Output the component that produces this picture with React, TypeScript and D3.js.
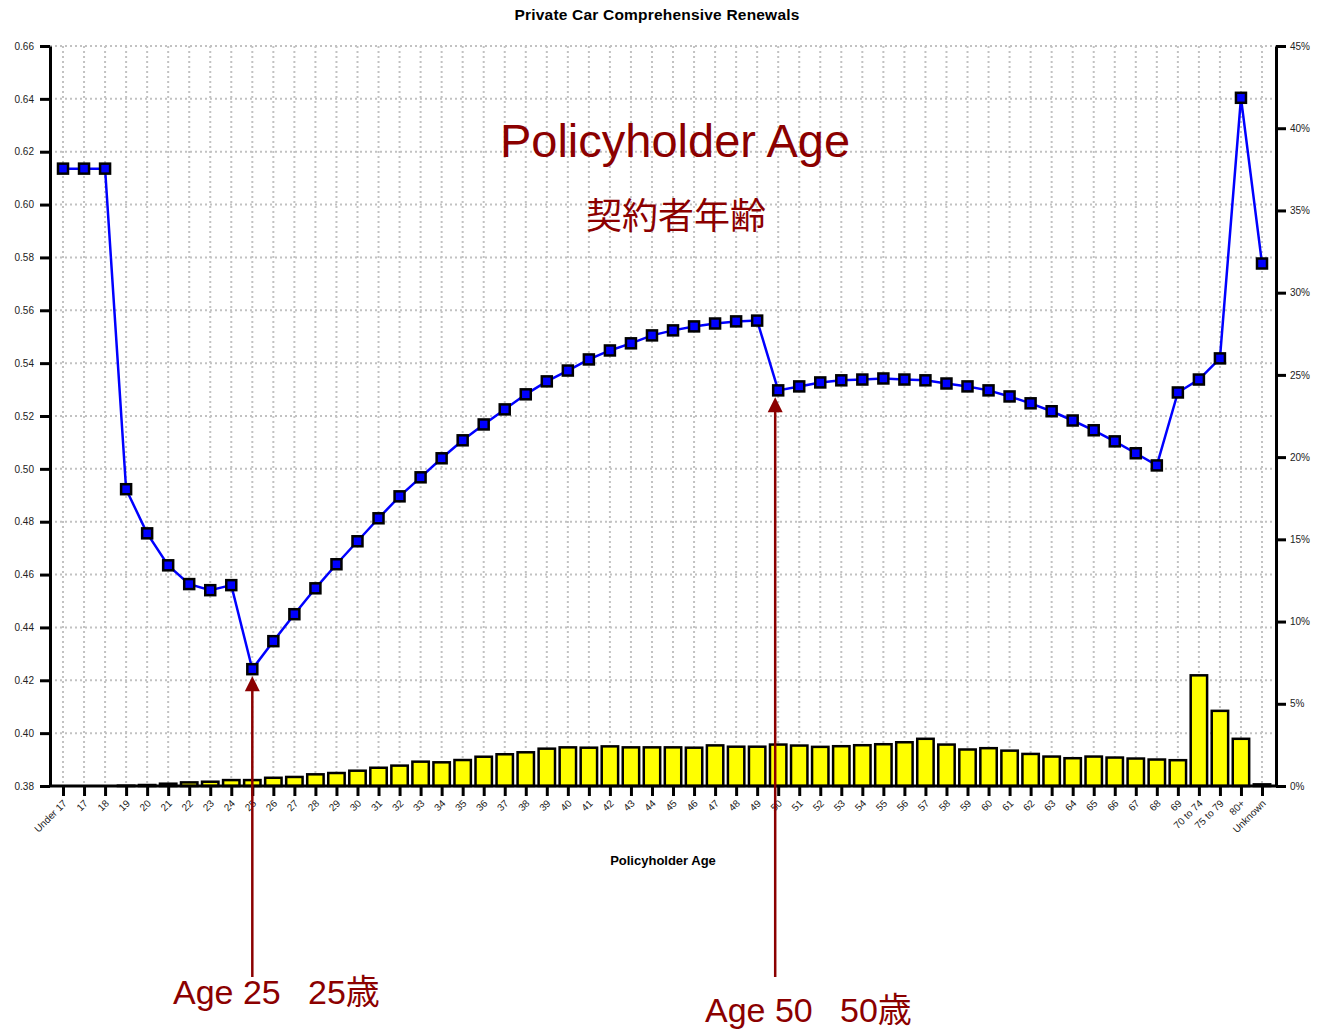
import { useEffect, useRef } from "react";
import * as d3 from "d3";

const ageCats = [
  "Under 17", "17", "18", "19", "20", "21", "22", "23", "24", "25", "26", "27", "28", "29",
  "30", "31", "32", "33", "34", "35", "36", "37", "38", "39", "40", "41", "42", "43", "44",
  "45", "46", "47", "48", "49", "50", "51", "52", "53", "54", "55", "56", "57", "58", "59",
  "60", "61", "62", "63", "64", "65", "66", "67", "68", "69", "70 to 74", "75 to 79", "80+", "Unknown",
];

// renewal rate per age band (left axis)
const renewalRate = [
  0.6136, 0.6136, 0.6136, 0.4923, 0.4756, 0.4635, 0.4564, 0.4541, 0.456, 0.4242, 0.4348, 0.445, 0.4548, 0.4639,
  0.4726, 0.4813, 0.4896, 0.4968, 0.504, 0.5108, 0.5168, 0.5225, 0.5282, 0.5331, 0.5372, 0.5414, 0.5448, 0.5475, 0.5505,
  0.5524, 0.5539, 0.555, 0.5558, 0.5561, 0.5297, 0.5312, 0.5327, 0.5335, 0.5338, 0.5342, 0.5338, 0.5335, 0.5323, 0.5312,
  0.5297, 0.5274, 0.5248, 0.5218, 0.5183, 0.5146, 0.5104, 0.5059, 0.5013, 0.5289, 0.5338, 0.5418, 0.6404, 0.5777,
];

// share of policies, % (right axis)
const exposureShare = [
  0, 0, 0, 0.02, 0.06, 0.14, 0.22, 0.26, 0.36, 0.36, 0.5, 0.55, 0.71, 0.79,
  0.93, 1.11, 1.24, 1.48, 1.44, 1.58, 1.78, 1.93, 2.05, 2.27, 2.35, 2.33, 2.41, 2.35, 2.35,
  2.35, 2.33, 2.47, 2.39, 2.39, 2.52, 2.46, 2.38, 2.42, 2.48, 2.54, 2.66, 2.87, 2.52, 2.22,
  2.3, 2.15, 1.95, 1.79, 1.69, 1.79, 1.73, 1.67, 1.61, 1.57, 6.73, 4.57, 2.87, 0.1,
];

const leftTicks = [0.38, 0.4, 0.42, 0.44, 0.46, 0.48, 0.5, 0.52, 0.54, 0.56, 0.58, 0.6, 0.62, 0.64, 0.66];
const rightTicks = [0, 5, 10, 15, 20, 25, 30, 35, 40, 45];

const callouts = [
  { age: "25", en: "Age 25", jp: "25歳", dx: 0, textX: 173, textY: 1004 },
  { age: "50", en: "Age 50", jp: "50歳", dx: -3, textX: 705, textY: 1022 },
];

const DARK_RED = "#8b0000";
const FONT = "'Liberation Sans', Arial, sans-serif";

const App = () => {
  const svgRef = useRef<SVGSVGElement>(null);

  useEffect(() => {
    document.body.style.margin = "0";
    const width = 1320, height = 1031;
    const left = 50, right = 1276, top = 46, bottom = 786;

    const svg = d3.select(svgRef.current);
    svg.selectAll("*").remove();
    svg.attr("width", width).attr("height", height).style("display", "block").style("font-family", FONT);

    const x = d3.scalePoint<string>().domain(ageCats).range([63, 1262]);
    const step = x.step();
    const y = d3.scaleLinear().domain([0.38, 0.66]).range([bottom, top]);
    const y2 = d3.scaleLinear().domain([0, 45]).range([bottom, top]);

    // grid
    const grid = svg.append("g").attr("stroke", "#c2c2c2").attr("stroke-width", 2).attr("stroke-dasharray", "2,3");
    grid.selectAll("line.h").data(leftTicks).enter().append("line")
      .attr("x1", left).attr("x2", right)
      .attr("y1", d => y(d)).attr("y2", d => y(d));
    grid.selectAll("line.v").data(ageCats).enter().append("line")
      .attr("x1", d => x(d)!).attr("x2", d => x(d)!)
      .attr("y1", top).attr("y2", bottom);

    // bars
    const barW = step * 0.78;
    svg.append("g").selectAll("rect").data(exposureShare).enter().append("rect")
      .attr("x", (d, i) => x(ageCats[i])! - barW / 2)
      .attr("y", d => y2(d))
      .attr("width", barW)
      .attr("height", d => bottom - y2(d))
      .attr("fill", "#ffff00")
      .attr("stroke", "#000")
      .attr("stroke-width", 2.5);

    // axes
    const styleAxis = (g: any) => {
      g.select(".domain").attr("stroke-width", 3);
      g.selectAll(".tick line").attr("stroke-width", 3);
      g.selectAll("text").attr("font-size", 10).attr("font-family", FONT).attr("fill", "#222");
    };

    svg.append("g").attr("transform", `translate(${left},0)`)
      .call(d3.axisLeft(y).tickValues(leftTicks).tickFormat(d3.format(".2f")).tickSize(10).tickSizeOuter(0).tickPadding(6))
      .call(styleAxis);

    svg.append("g").attr("transform", `translate(${right},0)`)
      .call(d3.axisRight(y2).tickValues(rightTicks).tickFormat(d => `${d}%`).tickSize(10).tickSizeOuter(0).tickPadding(4))
      .call(styleAxis);

    const xAxis = svg.append("g").attr("transform", `translate(0,${bottom})`)
      .call(d3.axisBottom(x).tickSize(10).tickSizeOuter(0).tickPadding(4))
      .call(styleAxis);
    xAxis.select(".domain").attr("d", `M${left},0H${right}`);
    xAxis.selectAll(".tick text")
      .attr("text-anchor", "end")
      .attr("dy", null)
      .attr("y", 0)
      .attr("transform", "translate(4,18) rotate(-45)");

    // line + markers
    const line = d3.line<number>()
      .x((d, i) => x(ageCats[i])!)
      .y(d => y(d));
    svg.append("path").datum(renewalRate)
      .attr("d", line)
      .attr("fill", "none")
      .attr("stroke", "#0000ff")
      .attr("stroke-width", 2.5);

    svg.append("g").selectAll("rect").data(renewalRate).enter().append("rect")
      .attr("x", (d, i) => x(ageCats[i])! - 5)
      .attr("y", d => y(d) - 5)
      .attr("width", 10).attr("height", 10)
      .attr("fill", "#0000ff")
      .attr("stroke", "#000")
      .attr("stroke-width", 2.5);

    // titles
    svg.append("text").attr("x", 657).attr("y", 20).attr("text-anchor", "middle")
      .attr("font-size", 15.5).attr("font-weight", "bold").attr("letter-spacing", 0.2)
      .text("Private Car Comprehensive Renewals");
    svg.append("text").attr("x", 663).attr("y", 865).attr("text-anchor", "middle")
      .attr("font-size", 13).attr("font-weight", "bold").text("Policyholder Age");

    // annotations
    svg.append("text").attr("x", 675).attr("y", 157).attr("text-anchor", "middle")
      .attr("fill", DARK_RED).attr("font-size", 47).text("Policyholder Age");
    svg.append("text").attr("x", 676).attr("y", 229).attr("text-anchor", "middle")
      .attr("fill", DARK_RED).attr("font-size", 36).attr("font-family", "'Noto Sans CJK JP', sans-serif")
      .text("契約者年齢");

    callouts.forEach(c => {
      const cx = x(c.age)! + c.dx;
      const tip = y(renewalRate[ageCats.indexOf(c.age)]) + 7;
      svg.append("line")
        .attr("x1", cx).attr("x2", cx).attr("y1", tip + 12).attr("y2", 977)
        .attr("stroke", DARK_RED).attr("stroke-width", 2.5);
      svg.append("path")
        .attr("d", `M${cx},${tip}L${cx - 7.5},${tip + 15}L${cx + 7.5},${tip + 15}Z`)
        .attr("fill", DARK_RED);
      svg.append("text").attr("x", c.textX).attr("y", c.textY)
        .attr("fill", DARK_RED).attr("font-size", 34).text(c.en);
      svg.append("text").attr("x", c.textX + 135).attr("y", c.textY)
        .attr("fill", DARK_RED).attr("font-size", 34)
        .attr("font-family", `${FONT}, 'Noto Sans CJK JP'`).text(c.jp);
    });
  }, []);

  return <svg ref={svgRef} />;
};

export default App;
